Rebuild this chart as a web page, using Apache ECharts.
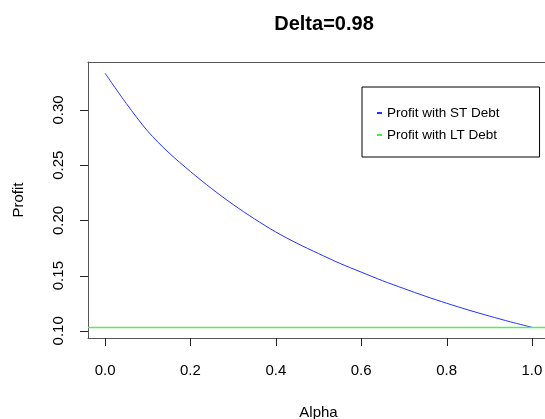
<!DOCTYPE html>
<html>
<head>
<meta charset="utf-8">
<script src="https://cdn.jsdelivr.net/npm/echarts@6/dist/echarts.min.js"></script>
<style>
  html, body { margin: 0; padding: 0; background: #fff; }
  #chart { width: 545px; height: 419px; }
</style>
</head>
<body>
<div id="chart"></div>
<script>
// values
const alpha = [0.0, 0.05, 0.1, 0.15, 0.2, 0.25, 0.3, 0.35, 0.4, 0.45, 0.5,
               0.55, 0.6, 0.65, 0.7, 0.75, 0.8, 0.85, 0.9, 0.95, 1.0];
const profitST = [0.3333, 0.3058, 0.2808, 0.2611, 0.2443, 0.2287, 0.2144, 0.2014, 0.1895, 0.1792, 0.1700,
                  0.1611, 0.1532, 0.1454, 0.1383, 0.1314, 0.1250, 0.1190, 0.1134, 0.1081, 0.1032];
const profitLT = [0.103, 0.103, 0.103, 0.103, 0.103, 0.103, 0.103, 0.103, 0.103, 0.103, 0.103,
                  0.103, 0.103, 0.103, 0.103, 0.103, 0.103, 0.103, 0.103, 0.103, 0.103];
const xTicks = [0, 0.2, 0.4, 0.6, 0.8, 1.0];
const yTicks = [0.10, 0.15, 0.20, 0.25, 0.30];

const font = "Liberation Sans, Arial, sans-serif";
const xMin = -0.04, xMax = 1.04, yMin = 0.0935, yMax = 0.3435;
const boxLine = { show: true, onZero: false, lineStyle: { color: "#555", width: 1 } };
const chart = echarts.init(document.getElementById("chart"));

chart.setOption({
  animation: false,
  backgroundColor: "#fff",
  title: {
    text: "Delta=0.98",
    left: 319,
    textAlign: "center",
    top: 9,
    textStyle: { fontFamily: font, fontSize: 20, fontWeight: "bold", color: "#000" }
  },
  legend: {
    orient: "vertical",
    left: 362,
    top: 87,
    padding: [19, 40, 15, 15],
    itemGap: 8,
    itemWidth: 5,
    itemHeight: 2,
    icon: "rect",
    borderColor: "#000",
    borderWidth: 1,
    textStyle: { fontFamily: font, fontSize: 13.5, color: "#000" },
    data: ["Profit with ST Debt", "Profit with LT Debt"]
  },
  grid: {
    left: 88, top: 62, width: 461, height: 276,
    outerBoundsMode: "none",
    containLabel: false
  },
  xAxis: [
    {
      type: "value",
      position: "bottom",
      min: xMin, max: xMax,
      name: "Alpha",
      nameLocation: "middle",
      nameGap: 67,
      nameTextStyle: { fontFamily: font, fontSize: 15, color: "#000" },
      axisLine: boxLine,
      splitLine: { show: false },
      axisTick: { show: false },
      axisLabel: {
        customValues: xTicks, margin: 25,
        fontFamily: font, fontSize: 15, color: "#000",
        formatter: v => v.toFixed(1)
      }
    },
    {
      type: "value",
      position: "top",
      min: xMin, max: xMax,
      axisLine: boxLine,
      axisTick: { show: false },
      axisLabel: { show: false },
      splitLine: { show: false }
    }
  ],
  yAxis: [
    {
      type: "value",
      position: "left",
      min: yMin, max: yMax,
      name: "Profit",
      nameLocation: "middle",
      nameRotate: 90,
      nameGap: 62,
      nameTextStyle: { fontFamily: font, fontSize: 15, color: "#000" },
      axisLine: boxLine,
      splitLine: { show: false },
      axisTick: { show: false },
      axisLabel: {
        customValues: yTicks, margin: 22, rotate: 90,
        fontFamily: font, fontSize: 15, color: "#000",
        formatter: v => v.toFixed(2)
      }
    },
    {
      type: "value",
      position: "right",
      min: yMin, max: yMax,
      axisLine: boxLine,
      axisTick: { show: false },
      axisLabel: { show: false },
      splitLine: { show: false }
    }
  ],
  series: [
    {
      name: "Profit with ST Debt",
      type: "line",
      smooth: 0.3,
      showSymbol: false,
      color: "#2233ff",
      lineStyle: { width: 1, color: "#2233ff" },
      data: alpha.map((a, i) => [a, profitST[i]])
    },
    {
      name: "Profit with LT Debt",
      type: "line",
      showSymbol: false,
      color: "#44ee44",
      lineStyle: { width: 1.5, color: "#55ee55" },
      data: [[xMin, profitLT[0]]].concat(alpha.map((a, i) => [a, profitLT[i]])).concat([[xMax, profitLT[profitLT.length - 1]]])
    }
  ]
});

// outside tick marks, placed through the series' own coordinate system
const ticks = [];
const tickStyle = { stroke: "#222", lineWidth: 1 };
xTicks.forEach(v => {
  const p = chart.convertToPixel({ seriesIndex: 0 }, [v, yMin]);
  const x = Math.round(p[0]) + 0.5;
  const y = Math.round(p[1]);
  ticks.push({ type: "line", silent: true, z: 100, shape: { x1: x, y1: y, x2: x, y2: y + 8 }, style: tickStyle });
});
yTicks.forEach(v => {
  const p = chart.convertToPixel({ seriesIndex: 0 }, [xMin, v]);
  const x = Math.round(p[0]);
  const y = Math.round(p[1]) + 0.5;
  ticks.push({ type: "line", silent: true, z: 100, shape: { x1: x - 8, y1: y, x2: x, y2: y }, style: tickStyle });
});
chart.setOption({ graphic: { elements: ticks } });
</script>
</body>
</html>
